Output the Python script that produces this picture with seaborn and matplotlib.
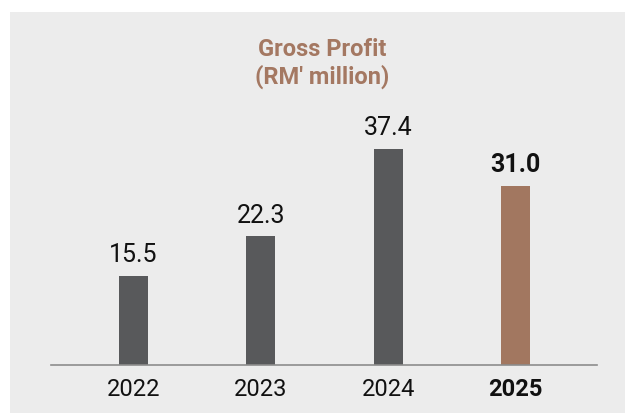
## Bar chart of yearly gross profit (RM' million), last year highlighted.

import seaborn as sns
import matplotlib.pyplot as plt
from matplotlib.patches import Rectangle

# Data
years = ["2022", "2023", "2024", "2025"]
gross_profit = [15.5, 22.3, 37.4, 31.0]
bar_colors = ["#58595b", "#58595b", "#58595b", "#a27760"]
title_text = "Gross Profit\n(RM' million)"

def main():
	sns.set_theme(style="white")
	plt.rcParams['font.family'] = ['Roboto', 'DejaVu Sans']
	fig = plt.figure(figsize=(6.25, 4.14), dpi=100)
	fig.patch.set_facecolor("white")
	# Light grey panel behind the chart
	fig.patches.append(Rectangle((10 / 625, 0), 1, 1 - 13 / 414, transform=fig.transFigure,
		facecolor="#ececec", edgecolor="none", zorder=-5))
	ax = fig.add_axes([51 / 625, 48 / 414, 546 / 625, 266 / 414])
	ax.set_facecolor("none")
	sns.barplot(x=years, y=gross_profit, hue=years, palette=bar_colors, width=0.228,
		legend=False, saturation=1, linewidth=0, edgecolor="none", ax=ax)
	ax.set_xlim(-0.648, 3.64)
	ax.set_ylim(0, 46.1)
	# Value labels on top of bars, last one in bold
	for i, cont in enumerate(ax.containers):
		labels = ax.bar_label(cont, fmt="%.1f", padding=7, fontsize=18, color="#111111")
		if i == len(years) - 1:
			for t in labels:
				t.set_fontweight("bold")
	# Only the bottom spine stays
	for side in ["left", "top", "right"]:
		ax.spines[side].set_visible(False)
	ax.spines["bottom"].set_color("#8c8c8c")
	ax.spines["bottom"].set_linewidth(1.2)
	ax.set_yticks([])
	ax.set_xlabel("")
	ax.set_ylabel("")
	ax.tick_params(axis="x", length=0, pad=9, labelsize=17, labelcolor="#111111")
	ax.get_xticklabels()[-1].set_fontweight("bold")
	# Title above the bars
	fig.text(322 / 625, 1 - 38 / 414, title_text, ha="center", va="top", fontsize=17,
		fontweight="bold", color="#a47862", linespacing=1.2)
	plt.savefig("out.png", dpi=100)
	plt.close(fig)

if __name__ == "__main__":
	main()
